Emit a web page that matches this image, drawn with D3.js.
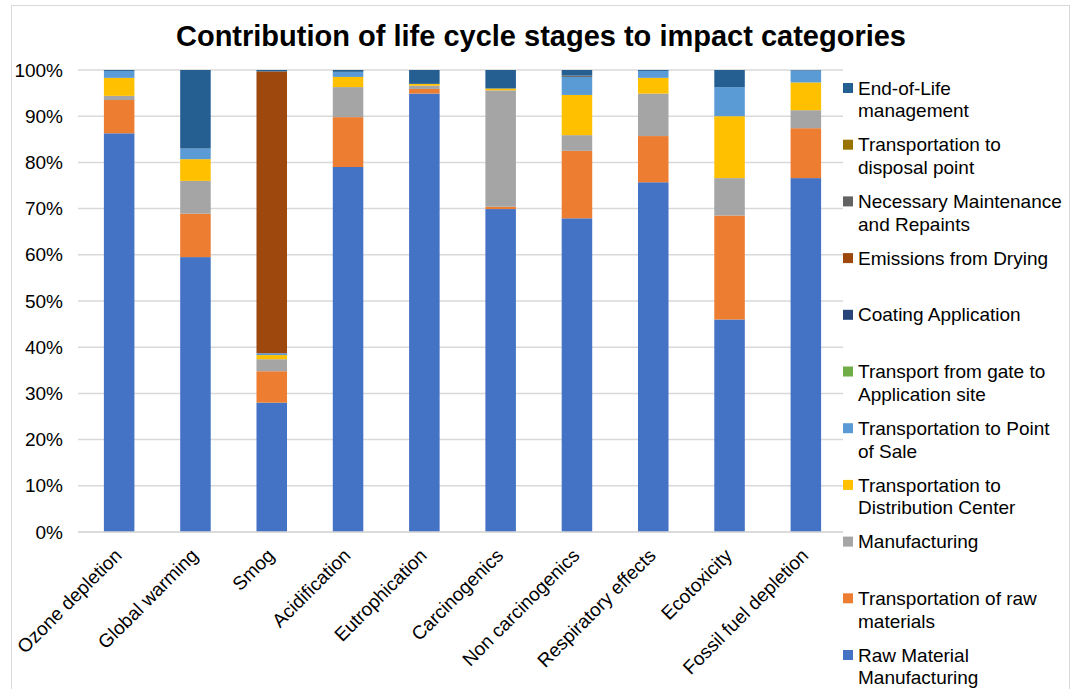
<!DOCTYPE html>
<html>
<head>
<meta charset="utf-8">
<script src="https://cdn.jsdelivr.net/npm/d3@7"></script>
<style>
  body { margin: 0; background: #fff; }
  text { font-family: "Liberation Sans", Arial, sans-serif; }
</style>
</head>
<body>
<script>
// impact categories on the x axis
const categories = ["Ozone depletion", "Global warming", "Smog", "Acidification", "Eutrophication",
  "Carcinogenics", "Non carcinogenics", "Respiratory effects", "Ecotoxicity", "Fossil fuel depletion"];

// life cycle stages, bottom of stack first
const stages = ["Raw Material Manufacturing", "Transportation of raw materials", "Manufacturing",
  "Transportation to Distribution Center", "Transportation to Point of Sale",
  "Transport from gate to Application site", "Coating Application", "Emissions from Drying",
  "Necessary Maintenance and Repaints", "Transportation to disposal point", "End-of-Life management"];

// legend labels split in lines like the original
const legendLines = [["Raw Material", "Manufacturing"], ["Transportation of raw", "materials"], ["Manufacturing"],
  ["Transportation to", "Distribution Center"], ["Transportation to Point", "of Sale"],
  ["Transport from gate to", "Application site"], ["Coating Application"], ["Emissions from Drying"],
  ["Necessary Maintenance", "and Repaints"], ["Transportation to", "disposal point"], ["End-of-Life", "management"]];

const stageColors = ["#4472C4", "#ED7D31", "#A5A5A5", "#FFC000", "#5B9BD5", "#70AD47",
  "#264478", "#9E480E", "#636363", "#997300", "#255E91"];

// percent values per stage, one per category
const rawMaterial   = [86.3, 59.5, 28.0, 79.0, 94.9, 69.9, 67.9, 75.7, 46.0, 76.6];
const transRaw      = [7.2, 9.4, 6.8, 10.8, 1.0, 0.5, 14.6, 10.0, 22.5, 10.8];
const manufacturing = [0.9, 7.1, 2.6, 6.5, 0.7, 25.2, 3.4, 9.2, 8.1, 3.9];
const transDist     = [3.9, 4.7, 0.9, 2.2, 0.4, 0.4, 8.7, 3.4, 13.4, 6.0];
const transPos      = [1.5, 2.3, 0.4, 1.1, 0.0, 0.0, 3.9, 1.5, 6.3, 2.6];
const transGate     = [0, 0, 0, 0, 0, 0, 0, 0, 0, 0];
const coating       = [0, 0, 0, 0, 0, 0, 0, 0, 0, 0];
const drying        = [0, 0, 61.0, 0, 0, 0, 0, 0, 0, 0];
const maintenance   = [0, 0, 0, 0, 0, 0, 0.3, 0, 0, 0];
const transDisposal = [0, 0, 0, 0, 0, 0, 0, 0, 0, 0];
const endOfLife     = [0.2, 17.0, 0.3, 0.4, 3.0, 4.0, 1.2, 0.2, 3.7, 0.1];

const yTicks = [0, 10, 20, 30, 40, 50, 60, 70, 80, 90, 100];

const seriesValues = [rawMaterial, transRaw, manufacturing, transDist, transPos, transGate,
  coating, drying, maintenance, transDisposal, endOfLife];

const width = 1078, height = 689;
const svg = d3.select("body").append("svg")
  .attr("width", width)
  .attr("height", height);

// outer chart border
svg.append("rect")
  .attr("x", 11.5).attr("y", 5.5)
  .attr("width", 1058).attr("height", 690)
  .attr("fill", "#fff")
  .attr("stroke", "#d9d9d9")
  .attr("stroke-width", 1);

// title
svg.append("text")
  .attr("x", 541).attr("y", 46)
  .attr("text-anchor", "middle")
  .style("font-size", "29px")
  .style("font-weight", "bold")
  .text("Contribution of life cycle stages to impact categories");

const table = categories.map((c, i) => {
  const row = { category: c };
  stages.forEach((s, j) => { row[s] = seriesValues[j][i]; });
  return row;
});
const stacked = d3.stack().keys(stages)(table);

const xScale = d3.scaleBand()
  .domain(categories)
  .range([81, 844])
  .paddingInner(0.6)
  .paddingOuter(0.3);

const yScale = d3.scaleLinear()
  .domain([0, 100])
  .range([532, 70]);

// gridlines
svg.append("g")
  .selectAll("line")
  .data(yTicks)
  .join("line")
  .attr("x1", 78).attr("x2", 843)
  .attr("y1", d => yScale(d)).attr("y2", d => yScale(d))
  .attr("stroke", "#d9d9d9")
  .attr("stroke-width", 1.5);

// y axis labels
const yAxis = d3.axisLeft(yScale)
  .tickValues(yTicks)
  .tickFormat(d => d + "%")
  .tickSize(0)
  .tickPadding(0);
const yG = svg.append("g")
  .attr("transform", "translate(63,0)")
  .call(yAxis);
yG.select(".domain").remove();
yG.selectAll("text")
  .style("font-size", "19px")
  .style("font-family", "'Liberation Sans', Arial, sans-serif")
  .attr("fill", "#000");

// bars
svg.append("g")
  .selectAll("g")
  .data(stacked)
  .join("g")
  .attr("fill", (d, i) => stageColors[i])
  .selectAll("rect")
  .data(d => d)
  .join("rect")
  .attr("x", d => xScale(d.data.category))
  .attr("width", xScale.bandwidth())
  .attr("y", d => yScale(d[1]))
  .attr("height", d => yScale(d[0]) - yScale(d[1]));

// baseline
svg.append("line")
  .attr("x1", 78).attr("x2", 843)
  .attr("y1", yScale(0)).attr("y2", yScale(0))
  .attr("stroke", "#d9d9d9")
  .attr("stroke-width", 1.5);

// category labels, rotated
svg.append("g")
  .selectAll("text")
  .data(categories)
  .join("text")
  .attr("transform", d => "translate(" + (xScale(d) + xScale.bandwidth() / 2 - 1) + ",552) rotate(-45)")
  .attr("text-anchor", "end")
  .attr("dy", "0.35em")
  .style("font-size", "19px")
  .text(d => d);

// legend, top item is the last stage
const legend = svg.append("g");
const legendItems = legend.selectAll("g")
  .data(stages.map((s, i) => i).reverse())
  .join("g")
  .attr("transform", (d, k) => "translate(843," + (88 + k * 56.7) + ")");
legendItems.append("rect")
  .attr("x", 0).attr("y", -5)
  .attr("width", 10).attr("height", 10)
  .attr("fill", d => stageColors[d]);
legendItems.append("text")
  .style("font-size", "19px")
  .selectAll("tspan")
  .data(d => legendLines[d])
  .join("tspan")
  .attr("x", 15)
  .attr("dy", (d, k) => k === 0 ? "0.35em" : "1.2em")
  .text(d => d);
</script>
</body>
</html>
